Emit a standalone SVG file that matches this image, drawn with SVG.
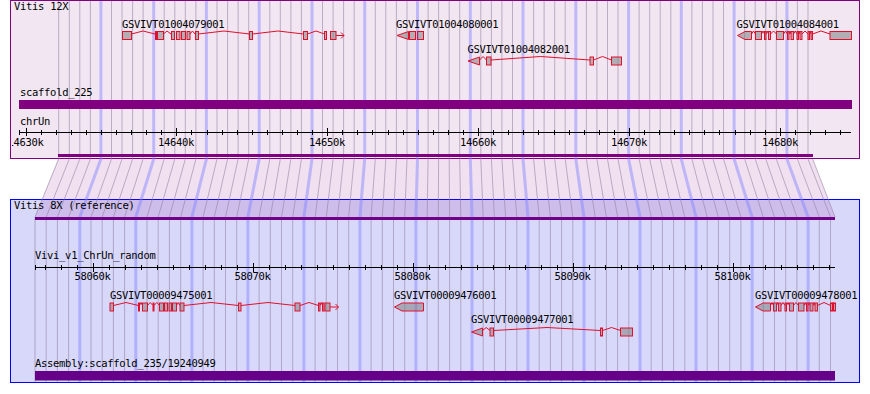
<svg xmlns="http://www.w3.org/2000/svg" width="870" height="394" viewBox="0 0 870 394">
<style>
text{font-family:"DejaVu Sans Mono","Liberation Mono",monospace;font-size:10.5px;letter-spacing:-0.3px;fill:#000}
.ex{fill:#808080;fill-opacity:.55;stroke:#e0102c;stroke-width:1}
.in{fill:none;stroke:#e0102c;stroke-width:1}
.gl{fill:none;stroke:#8c7c9c;stroke-opacity:.55;stroke-width:1}
.bl{fill:none;stroke:#8080ff;stroke-opacity:.45;stroke-width:3}
.tk{fill:none;stroke:#000;stroke-width:1}
.mid{text-anchor:middle}
</style>
<defs>
<clipPath id="ctop"><rect x="11" y="1" width="848" height="157"/></clipPath>
<clipPath id="clab"><rect x="12" y="130" width="100" height="20"/></clipPath>
</defs>
<g id="panel-top">
<rect x="10.5" y="0.5" width="849" height="158" fill="#f2e6f2" stroke="#800080"/>
</g>
<g id="panel-bottom">
<rect x="10.5" y="199.5" width="849" height="183" fill="#d8d8fa" stroke="#0000ff"/>
</g>
<polygon id="link" points="58,159 812.7,159 835,217 35,217" fill="#800080" fill-opacity="0.12"/>
<g id="connectors">
<path class="gl" d="M58.7 1V159L35 217V382M69.3 1V159L46.2 217V382M79.8 1V159L57.4 217V382M90.4 1V159L68.6 217V382M111.5 1V159L91 217V382M122 1V159L102.2 217V382M132.6 1V159L113.4 217V382M143.1 1V159L124.6 217V382M164.2 1V159L147 217V382M174.8 1V159L158.2 217V382M185.3 1V159L169.4 217V382M195.9 1V159L180.7 217V382M217 1V159L203.1 217V382M227.6 1V159L214.3 217V382M238.1 1V159L225.5 217V382M248.7 1V159L236.7 217V382M269.8 1V159L259.1 217V382M280.3 1V159L270.3 217V382M290.9 1V159L281.5 217V382M301.4 1V159L292.7 217V382M322.5 1V159L315.1 217V382M333.1 1V159L326.3 217V382M343.6 1V159L337.5 217V382M354.2 1V159L348.7 217V382M375.3 1V159L371.1 217V382M385.8 1V159L382.3 217V382M396.4 1V159L393.5 217V382M407 1V159L404.7 217V382M428.1 1V159L427.1 217V382M438.6 1V159L438.3 217V382M449.2 1V159L449.6 217V382M459.7 1V159L460.8 217V382M480.8 1V159L483.2 217V382M491.4 1V159L494.4 217V382M501.9 1V159L505.6 217V382M512.5 1V159L516.8 217V382M533.6 1V159L539.2 217V382M544.1 1V159L550.4 217V382M554.7 1V159L561.6 217V382M565.2 1V159L572.8 217V382M586.4 1V159L595.2 217V382M596.9 1V159L606.4 217V382M607.5 1V159L617.6 217V382M618 1V159L628.8 217V382M639.1 1V159L651.2 217V382M649.7 1V159L662.4 217V382M660.2 1V159L673.6 217V382M670.8 1V159L684.8 217V382M691.9 1V159L707.2 217V382M702.4 1V159L718.4 217V382M713 1V159L729.7 217V382M723.5 1V159L740.9 217V382M744.7 1V159L763.3 217V382M755.2 1V159L774.5 217V382M765.8 1V159L785.7 217V382M776.3 1V159L796.9 217V382M797.4 1V159L819.3 217V382M808 1V159L830.5 217V382M812.7 159L835 217"/>
<path class="bl" d="M100.9 1V159L79.8 217V382M153.7 1V159L135.8 217V382M206.4 1V159L191.9 217V382M259.2 1V159L247.9 217V382M312 1V159L303.9 217V382M364.7 1V159L359.9 217V382M417.5 1V159L415.9 217V382M470.3 1V159L472 217V382M523 1V159L528 217V382M575.8 1V159L584 217V382M628.6 1V159L640 217V382M681.3 1V159L696 217V382M734.1 1V159L752.1 217V382M786.9 1V159L808.1 217V382"/>
</g>
<g id="top-content" clip-path="url(#ctop)">
<text x="14" y="10">Vitis 12X</text>
<g id="scaffold_225">
<text x="20" y="96">scaffold_225</text>
<rect x="19" y="100" width="833" height="9" fill="#800080"/>
</g>
<g id="ruler-top">
<text x="20" y="125">chrUn</text>
<path class="tk" d="M19 132.5H851M19.5 130V135"/>
<path class="tk" d="M41.5 130v5M56.5 130v5M71.5 130v5M86.5 130v5M101.5 130v5M116.5 130v5M131.5 130v5M146.5 130v5M161.5 130v5M191.5 130v5M207.5 130v5M222.5 130v5M237.5 130v5M252.5 130v5M267.5 130v5M282.5 130v5M297.5 130v5M312.5 130v5M342.5 130v5M357.5 130v5M372.5 130v5M388.5 130v5M403.5 130v5M418.5 130v5M433.5 130v5M448.5 130v5M463.5 130v5M493.5 130v5M508.5 130v5M523.5 130v5M538.5 130v5M554.5 130v5M569.5 130v5M584.5 130v5M599.5 130v5M614.5 130v5M644.5 130v5M659.5 130v5M674.5 130v5M689.5 130v5M704.5 130v5M719.5 130v5M735.5 130v5M750.5 130v5M765.5 130v5M795.5 130v5M810.5 130v5M825.5 130v5M840.5 130v5"/>
<path class="tk" d="M26.5 128v8M176.5 128v8M327.5 128v8M478.5 128v8M629.5 128v8M780.5 128v8"/>
<text class="mid" x="25.5" y="146" clip-path="url(#clab)">14630k</text>
<text class="mid" x="176" y="146">14640k</text>
<text class="mid" x="327" y="146">14650k</text>
<text class="mid" x="478" y="146">14660k</text>
<text class="mid" x="629" y="146">14670k</text>
<text class="mid" x="780" y="146">14680k</text>
</g>
<rect x="58" y="154" width="755" height="3" fill="#800080"/>
<g id="GSVIVT01004079001">
<text x="122" y="28">GSVIVT01004079001</text>
<path class="in" d="M131.5 34L143 31L155 34M163.5 34L167 31L171 34M190 34L192.5 31L195 34M198.5 34L224 31L249.5 34M252.5 34L278 31L303.5 34M307.5 34L316 31L324.5 34M336 35.5H344M341 32.5L344 35.5L341 38.5"/>
<rect class="ex" x="122.5" y="31.5" width="9" height="8"/>
<rect class="ex" x="155.5" y="31.5" width="1" height="8"/>
<rect class="ex" x="157.5" y="31.5" width="6" height="8"/>
<rect class="ex" x="171.5" y="31.5" width="3" height="8"/>
<rect class="ex" x="176.5" y="31.5" width="3.5" height="8"/>
<rect class="ex" x="181.5" y="31.5" width="4" height="8"/>
<rect class="ex" x="187" y="31.5" width="3" height="8"/>
<rect class="ex" x="195.5" y="31.5" width="3" height="8"/>
<rect class="ex" x="249.5" y="31.5" width="3" height="8"/>
<rect class="ex" x="303.5" y="31.5" width="4" height="8"/>
<rect class="ex" x="324.5" y="31.5" width="2" height="8"/>
<rect class="ex" x="330.5" y="31.5" width="5.5" height="8"/>
</g>
<g id="GSVIVT01004080001">
<text x="396" y="28">GSVIVT01004080001</text>
<polygon class="ex" points="397,35.5 408.5,31.5 408.5,39.5"/>
<rect class="ex" x="409.5" y="31.5" width="6" height="8"/>
<rect class="ex" x="417.5" y="31.5" width="6" height="8"/>
</g>
<g id="GSVIVT01004082001">
<text x="467.5" y="53">GSVIVT01004082001</text>
<path class="in" d="M479.5 60L483 56.5L486.5 60M491 60L540.5 56.5L590 60M593.5 60L602.5 56.5L611.5 60"/>
<polygon class="ex" points="468,61 479.5,57 479.5,65"/>
<rect class="ex" x="486.5" y="57" width="4.5" height="8"/>
<rect class="ex" x="590" y="57" width="3.5" height="8"/>
<rect class="ex" x="611.5" y="57" width="10" height="8"/>
</g>
<g id="GSVIVT01004084001">
<text x="736.5" y="28">GSVIVT01004084001</text>
<path class="in" d="M751.5 34L753.5 31L755.5 34M761.5 34L763 31L764.5 34M766 34L767.2 31L768.5 34M770.5 34L773.5 31L776.5 34M783.5 34L785.5 31L787.5 34M789 34L790 31L791 34M793.5 34L795.2 31L797 34M798.5 34L799.2 31L800 34M802 34L805 31L808 34M809.5 34L810.2 31L811 34M812.5 34L821 31L830 34"/>
<polygon class="ex" points="737.5,35.5 745,31.5 751.5,31.5 751.5,39.5 745,39.5"/>
<rect class="ex" x="755.5" y="31.5" width="6" height="8"/>
<rect class="ex" x="764.5" y="31.5" width="1.5" height="8"/>
<rect class="ex" x="768.5" y="31.5" width="2" height="8"/>
<rect class="ex" x="776.5" y="31.5" width="7" height="8"/>
<rect class="ex" x="787.5" y="31.5" width="1.5" height="8"/>
<rect class="ex" x="791" y="31.5" width="2.5" height="8"/>
<rect class="ex" x="797" y="31.5" width="1.5" height="8"/>
<rect class="ex" x="800" y="31.5" width="2" height="8"/>
<rect class="ex" x="808" y="31.5" width="1.5" height="8"/>
<rect class="ex" x="811" y="31.5" width="1.5" height="8"/>
<rect class="ex" x="830" y="31.5" width="21.5" height="8"/>
</g>
</g>
<g id="bottom-content">
<text x="14" y="209">Vitis 8X (reference)</text>
<rect x="35" y="217" width="800" height="3" fill="#700088"/>
<g id="ruler-bottom">
<text x="35" y="259">Vivi_v1_ChrUn_random</text>
<path class="tk" d="M35 267.5H835M35.5 265V270"/>
<path class="tk" d="M45.5 265v5M61.5 265v5M77.5 265v5M109.5 265v5M125.5 265v5M141.5 265v5M157.5 265v5M173.5 265v5M189.5 265v5M205.5 265v5M221.5 265v5M237.5 265v5M269.5 265v5M285.5 265v5M301.5 265v5M317.5 265v5M333.5 265v5M349.5 265v5M365.5 265v5M381.5 265v5M397.5 265v5M429.5 265v5M445.5 265v5M461.5 265v5M477.5 265v5M493.5 265v5M509.5 265v5M525.5 265v5M541.5 265v5M557.5 265v5M589.5 265v5M605.5 265v5M621.5 265v5M637.5 265v5M653.5 265v5M669.5 265v5M685.5 265v5M701.5 265v5M717.5 265v5M749.5 265v5M765.5 265v5M781.5 265v5M797.5 265v5M813.5 265v5M829.5 265v5"/>
<path class="tk" d="M93.5 263v9M253.5 263v9M413.5 263v9M573.5 263v9M733.5 263v9"/>
<text class="mid" x="92.5" y="280">58060k</text>
<text class="mid" x="252.5" y="280">58070k</text>
<text class="mid" x="412.5" y="280">58080k</text>
<text class="mid" x="572.5" y="280">58090k</text>
<text class="mid" x="732.5" y="280">58100k</text>
</g>
<g id="GSVIVT00009475001">
<text x="110" y="299">GSVIVT00009475001</text>
<path class="in" d="M113.5 305.5L126 302.5L138.5 305.5M139.5 305.5L141 302.5L142.5 305.5M147.5 305.5L150.2 302.5L153 305.5M154 305.5L156.8 302.5L159.5 305.5M176.5 305.5L178.2 302.5L180 305.5M184 305.5L211 302.5L238.5 305.5M241 305.5L268 302.5L295 305.5M300 305.5L309 302.5L318.5 305.5M320 305.5L321.2 302.5L322.5 305.5M330 307H338.5M335.5 304L338.5 307L335.5 310"/>
<rect class="ex" x="110" y="303" width="3.5" height="8"/>
<rect class="ex" x="138.5" y="303" width="1" height="8"/>
<rect class="ex" x="142.5" y="303" width="5" height="8"/>
<rect class="ex" x="153" y="303" width="1" height="8"/>
<rect class="ex" x="159.5" y="303" width="4" height="8"/>
<rect class="ex" x="164.5" y="303" width="3" height="8"/>
<rect class="ex" x="169" y="303" width="2.5" height="8"/>
<rect class="ex" x="172.5" y="303" width="4" height="8"/>
<rect class="ex" x="180" y="303" width="4" height="8"/>
<rect class="ex" x="238.5" y="303" width="2.5" height="8"/>
<rect class="ex" x="295" y="303" width="5" height="8"/>
<rect class="ex" x="318.5" y="303" width="1.5" height="8"/>
<rect class="ex" x="322.5" y="303" width="1.5" height="8"/>
<rect class="ex" x="325" y="303" width="5" height="8"/>
</g>
<g id="GSVIVT00009476001">
<text x="394" y="298.5">GSVIVT00009476001</text>
<polygon class="ex" points="394.5,307 402,303 423.5,303 423.5,311 402,311"/>
</g>
<g id="GSVIVT00009477001">
<text x="471" y="323">GSVIVT00009477001</text>
<path class="in" d="M482.5 330.5L486.2 327.5L490 330.5M493.5 330.5L547 327.5L600.5 330.5M602.5 330.5L611.5 327.5L620.5 330.5"/>
<polygon class="ex" points="471.5,332 482.5,328 482.5,336"/>
<rect class="ex" x="490" y="328" width="3.5" height="8"/>
<rect class="ex" x="600.5" y="328" width="2" height="8"/>
<rect class="ex" x="620.5" y="328" width="12" height="8"/>
</g>
<g id="GSVIVT00009478001">
<text x="755" y="298.5">GSVIVT00009478001</text>
<path class="in" d="M770.5 305.5L772 302.5L773.5 305.5M776.5 305.5L777.5 302.5L778.5 305.5M781 305.5L783 302.5L785 305.5M786.5 305.5L788 302.5L789.5 305.5M793.5 305.5L796 302.5L798.5 305.5M804 305.5L805.2 302.5L806.5 305.5M808 305.5L809 302.5L810 305.5M813 305.5L814 302.5L815 305.5M817.5 305.5L824 302.5L830.5 305.5M832.5 305.5L833 302.5L833.5 305.5"/>
<polygon class="ex" points="755.5,307 763,303 770.5,303 770.5,311 763,311"/>
<rect class="ex" x="773.5" y="303" width="3" height="8"/>
<rect class="ex" x="778.5" y="303" width="2.5" height="8"/>
<rect class="ex" x="785" y="303" width="1.5" height="8"/>
<rect class="ex" x="789.5" y="303" width="4" height="8"/>
<rect class="ex" x="798.5" y="303" width="5.5" height="8"/>
<rect class="ex" x="806.5" y="303" width="1.5" height="8"/>
<rect class="ex" x="810" y="303" width="3" height="8"/>
<rect class="ex" x="815" y="303" width="2.5" height="8"/>
<rect class="ex" x="830.5" y="303" width="2" height="8"/>
<rect class="ex" x="833.5" y="303" width="2" height="8"/>
</g>
<g id="assembly">
<text x="35" y="367">Assembly:scaffold_235/19240949</text>
<rect x="35" y="371" width="800" height="9.5" fill="#660088"/>
</g>
</g>
</svg>
